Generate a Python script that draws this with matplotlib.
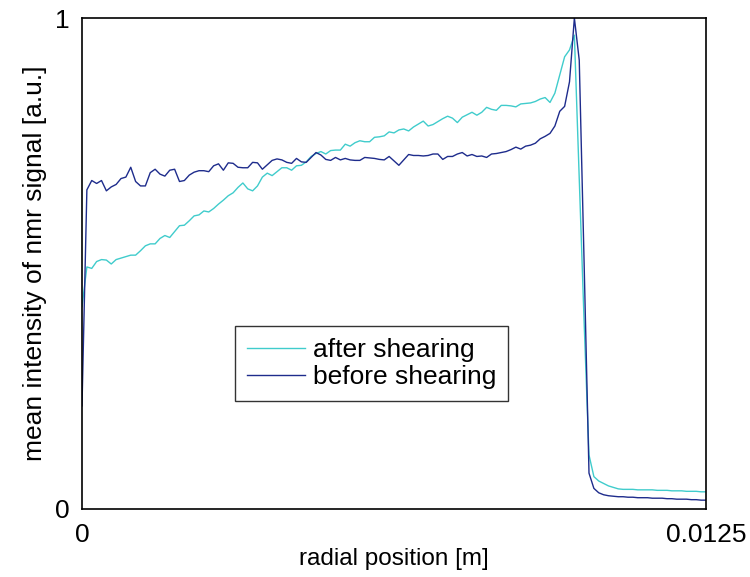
import numpy as np
import matplotlib
matplotlib.use("Agg")
import matplotlib.pyplot as plt

plt.rcParams['font.family'] = ['Liberation Sans', 'DejaVu Sans']

# radial positions [m] (129 evenly spaced samples, 0 .. 0.0125)
x_start, x_end, n_samples = 0.0, 0.0125, 129
radial = np.linspace(x_start, x_end, n_samples)

before_shearing = [
    0.21, 0.650, 0.669, 0.663, 0.669, 0.648, 0.656, 0.661, 0.673, 0.676,
    0.696, 0.667, 0.658, 0.658, 0.685, 0.692, 0.682, 0.678, 0.690, 0.692,
    0.667, 0.669, 0.680, 0.686, 0.689, 0.689, 0.687, 0.699, 0.703, 0.690,
    0.705, 0.704, 0.696, 0.695, 0.695, 0.706, 0.705, 0.692, 0.701, 0.710,
    0.713, 0.711, 0.706, 0.704, 0.714, 0.707, 0.706, 0.716, 0.726, 0.721,
    0.712, 0.710, 0.716, 0.711, 0.714, 0.711, 0.710, 0.710, 0.716, 0.715,
    0.714, 0.712, 0.711, 0.718, 0.709, 0.700, 0.711, 0.722, 0.720, 0.720,
    0.719, 0.720, 0.723, 0.723, 0.712, 0.718, 0.718, 0.723, 0.726, 0.719,
    0.722, 0.718, 0.719, 0.716, 0.723, 0.724, 0.726, 0.728, 0.732, 0.737,
    0.733, 0.739, 0.741, 0.745, 0.754, 0.759, 0.765, 0.780, 0.810, 0.820,
    0.870, 1.000, 0.914, 0.500, 0.073, 0.042, 0.033, 0.029, 0.027, 0.026,
    0.025, 0.025, 0.024, 0.024, 0.023, 0.023, 0.023, 0.022, 0.022, 0.022,
    0.021, 0.021, 0.020, 0.020, 0.020, 0.019, 0.019, 0.018, 0.018,
]

after_shearing = [
    0.412, 0.493, 0.490, 0.504, 0.508, 0.507, 0.499, 0.508, 0.511, 0.514,
    0.517, 0.517, 0.526, 0.536, 0.540, 0.540, 0.551, 0.557, 0.553, 0.565,
    0.577, 0.578, 0.587, 0.597, 0.599, 0.607, 0.605, 0.612, 0.621, 0.629,
    0.638, 0.644, 0.655, 0.664, 0.652, 0.648, 0.658, 0.676, 0.684, 0.679,
    0.687, 0.695, 0.695, 0.690, 0.699, 0.700, 0.707, 0.718, 0.724, 0.728,
    0.723, 0.730, 0.731, 0.731, 0.743, 0.739, 0.746, 0.750, 0.748, 0.748,
    0.757, 0.758, 0.760, 0.768, 0.766, 0.772, 0.774, 0.770, 0.778, 0.784,
    0.790, 0.780, 0.783, 0.789, 0.795, 0.800, 0.796, 0.787, 0.798, 0.803,
    0.808, 0.802, 0.808, 0.818, 0.814, 0.812, 0.822, 0.822, 0.821, 0.819,
    0.825, 0.826, 0.827, 0.830, 0.835, 0.838, 0.828, 0.847, 0.884, 0.921,
    0.935, 0.965, 0.670, 0.380, 0.110, 0.066, 0.057, 0.052, 0.047, 0.044,
    0.041, 0.040, 0.040, 0.040, 0.039, 0.039, 0.039, 0.039, 0.038, 0.038,
    0.038, 0.037, 0.037, 0.037, 0.036, 0.036, 0.036, 0.035, 0.035,
]

x_ticks = [0, 0.0125]
x_tick_labels = ["0", "0.0125"]
y_ticks = [0, 1]
y_tick_labels = ["0", "1"]

fig = plt.figure(figsize=(7.5, 5.77), dpi=100)
ax = fig.add_axes([82/750, 68/577, 624/750, 491/577])

ax.plot(radial, after_shearing, color='#40cccc', lw=1.0, label='after shearing')
ax.plot(radial, before_shearing, color='#1e2c8c', lw=1.0, label='before shearing')

ax.set_xlim(0, 0.0125)
ax.set_ylim(0, 1)
ax.set_xticks(x_ticks)
ax.set_xticklabels(x_tick_labels)
ax.set_yticks(y_ticks)
ax.set_yticklabels(y_tick_labels)
ax.tick_params(length=0, labelsize=19)
ax.tick_params(axis='x', pad=10)
ax.tick_params(axis='y', pad=9)
for s in ax.spines.values():
    s.set_linewidth(1.2)
    s.set_color('black')

ax.set_xlabel('radial position [m]', fontsize=17.5, labelpad=1)
ax.set_ylabel('mean intensity of nmr signal [a.u.]', fontsize=19, labelpad=6)

leg = ax.legend(loc='lower left', bbox_to_anchor=(0.245, 0.22), borderaxespad=0,
                fontsize=19, frameon=True, fancybox=False, handlelength=2.2,
                handletextpad=0.3, labelspacing=0.12, borderpad=0.45)
leg.get_frame().set_edgecolor('black')
leg.get_frame().set_linewidth(1.0)

fig.savefig('out.png', dpi=100)
